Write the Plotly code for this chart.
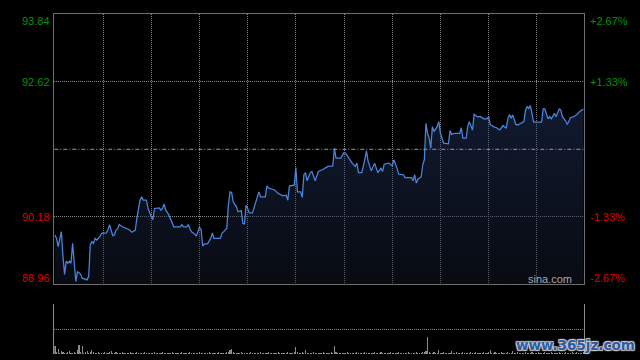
import plotly.graph_objects as go

# ---- data ----
minutes = [0, 1, 2, 4, 5, 6, 7, 8, 9, 10, 11, 12, 13, 14, 16, 17, 20, 21, 22, 23, 24, 25, 26, 28, 29,
           32, 33, 34, 36, 37, 38, 39, 40, 42, 44, 46, 48, 50, 51, 52, 53, 54, 55, 57, 58, 60, 61, 62,
           65, 66, 67, 68, 69, 71, 72, 74, 76, 78, 79, 80, 82, 83, 84, 85, 87, 88, 90, 91, 92, 93, 95,
           97, 98, 99, 103, 104, 106, 107, 108, 109, 110, 111, 113, 114, 116, 117, 118, 119, 120, 121,
           123, 125, 127, 128, 131, 132, 133, 137, 139, 142, 144, 145, 146, 148, 149, 150, 151, 153,
           154, 155, 156, 157, 159, 160, 162, 164, 165, 167, 170, 173, 174, 175, 178, 180, 181, 183,
           185, 187, 188, 189, 191, 192, 194, 195, 197, 199, 200, 201, 203, 204, 205, 208, 210, 211,
           213, 214, 217, 218, 222, 223, 224, 225, 226, 228, 229, 230, 231, 232, 233, 234, 235, 236,
           238, 239, 240, 241, 242, 245, 246, 247, 249, 252, 253, 254, 256, 257, 258, 260, 261, 263,
           265, 267, 269, 270, 271, 273, 275, 277, 279, 281, 282, 283, 284, 285, 287, 288, 290, 292,
           293, 294, 295, 296, 297, 298, 301, 303, 304, 305, 307, 308, 309, 311, 312, 314, 315, 316,
           318, 319, 321, 323, 325, 327, 329]
prices = [89.85, 89.79, 89.64, 89.91, 89.46, 89.14, 89.38, 89.34, 89.38, 89.34, 89.70, 89.34, 89.01,
          89.19, 89.14, 89.07, 89.04, 89.10, 89.67, 89.73, 89.70, 89.79, 89.76, 89.82, 89.88,
          89.89, 89.94, 90.04, 89.84, 89.85, 89.94, 89.96, 90.04, 90.00, 89.98, 89.95, 89.90, 89.94,
          90.15, 90.34, 90.48, 90.54, 90.48, 90.48, 90.33, 90.18, 90.13, 90.33,
          90.34, 90.30, 90.33, 90.41, 90.30, 90.21, 90.15, 90.00, 90.00, 90.00, 90.04, 90.00, 90.00,
          90.04, 89.97, 89.91, 89.87, 89.83, 89.99, 89.95, 89.65, 89.69, 89.69,
          89.79, 89.89, 89.79, 89.79, 89.88, 89.94, 89.97, 90.39, 90.63, 90.62, 90.45, 90.36, 90.27,
          90.29, 90.06, 90.05, 90.39, 90.33, 90.25,
          90.25, 90.42, 90.63, 90.54, 90.54, 90.74, 90.70, 90.66, 90.60, 90.56, 90.57, 90.48, 90.74,
          90.75, 90.75, 91.07, 90.63, 90.63,
          90.53, 90.94, 90.98, 90.83, 90.98, 91.00, 90.83, 91.00, 91.01, 91.04, 91.09, 91.10, 91.42,
          91.24, 91.24, 91.34, 91.33, 91.24,
          91.15, 91.09, 91.15, 90.98, 90.98, 91.09, 91.37, 91.18, 91.01, 91.15, 91.06, 90.98, 91.06,
          91.00, 91.13, 91.15, 91.10, 91.21,
          91.06, 90.95, 90.94, 90.89, 90.89, 90.83, 90.94, 90.79, 90.86, 90.90, 91.12, 91.21, 91.87,
          91.69, 91.60, 91.42, 91.81, 91.72,
          91.81, 91.90, 91.69, 91.60, 91.51, 91.50, 91.74, 91.67, 91.69, 91.69, 91.79, 91.60, 91.60,
          91.81, 91.90, 91.75, 92.03, 91.99,
          91.99, 91.95, 91.95, 91.99, 91.85, 91.81, 91.79, 91.75, 91.83, 91.78, 91.95, 92.03, 91.96,
          92.02, 91.85, 91.84, 91.87, 91.90,
          92.11, 92.17, 92.14, 92.19, 92.05, 91.89, 91.89, 91.89, 92.13, 92.13, 91.95, 91.99, 91.95,
          92.05, 91.99, 92.13, 92.11, 91.99,
          91.91, 91.85, 91.97, 91.99, 92.03, 92.09, 92.13]

volume = [
    8, 2, 5, 1, 3, 2, 1, 1, 2, 3, 1, 1, 2, 1, 4, 9, 2, 8, 1, 2, 3, 1, 2, 4, 2, 1, 1, 2, 1, 1,
    1, 2, 1, 1, 2, 3, 1, 1, 2, 1, 1, 1, 2, 1, 1, 1, 1, 2, 1, 1, 1, 2, 1, 1, 1, 1, 2, 1, 1, 1,
    1, 1, 2, 1, 1, 1, 1, 2, 1, 1, 1, 1, 1, 2, 1, 1, 1, 1, 1, 2, 1, 1, 1, 1, 2, 1, 1, 1, 1, 1,
    2, 1, 1, 1, 1, 1, 2, 1, 1, 1, 1, 1, 2, 1, 1, 1, 1, 2, 2, 4, 5, 2, 1, 1, 1, 1, 2, 1, 1, 1,
    1, 1, 2, 1, 1, 1, 1, 1, 2, 1, 1, 1, 1, 2, 1, 1, 1, 1, 1, 2, 1, 1, 1, 1, 1, 2, 1, 1, 1, 2,
    7, 2, 1, 1, 2, 1, 4, 1, 1, 1, 1, 2, 1, 1, 1, 1, 1, 2, 1, 1, 1, 1, 2, 1, 8, 2, 1, 1, 1, 1,
    1, 1, 2, 1, 1, 1, 1, 1, 2, 1, 1, 1, 1, 2, 1, 1, 1, 1, 1, 2, 1, 1, 1, 2, 1, 1, 1, 1, 1, 2,
    1, 1, 1, 1, 2, 1, 1, 1, 1, 1, 2, 1, 1, 1, 1, 2, 1, 1, 1, 2, 2, 3, 17, 2, 1, 1, 2, 1, 1, 4,
    1, 1, 2, 1, 1, 1, 1, 3, 1, 1, 2, 1, 1, 1, 2, 1, 1, 1, 1, 2, 1, 1, 2, 1, 1, 1, 1, 2, 1, 1,
    2, 4, 1, 1, 2, 1, 1, 1, 2, 1, 1, 1, 2, 1, 1, 3, 1, 1, 2, 1, 1, 1, 1, 2, 1, 1, 1, 2, 1, 1,
    1, 2, 1, 1, 1, 2, 1, 1, 1, 2, 1, 1, 1, 1, 2, 1, 1, 1, 2, 1, 1, 1, 2, 1, 1, 2, 1, 1, 1, 2,
]
volume_minutes = list(range(len(volume)))

prev_close = 91.40
price_ticks = [93.84, 92.62, 90.18, 88.96]
left_labels = ["93.84", "92.62", "90.18", "88.96"]
right_labels = ["+2.67%", "+1.33%", "-1.33%", "-2.67%"]
time_grid = [30, 60, 90, 120, 150, 180, 210, 240, 270, 300]
volume_grid = [25, 50]

# ---- styling ----
GRID = "#8a8a8a"
FRAME = "#6e6e6e"
GREEN = "#009400"
RED = "#dd0000"
FONT = "Liberation Sans, Arial, sans-serif"

X0, X1 = 54.3 / 640, 584.3 / 640
Y_MAIN = [1 - 284.3 / 360, 1 - 14.3 / 360]
Y_VOL = [1 - 354.3 / 360, 1 - 304.2 / 360]
XRANGE = [-0.4, 329.6]

fig = go.Figure()
fig.add_trace(go.Scatter(
    x=minutes, y=prices, mode="lines",
    line=dict(color="#4a86e0", width=1.25),
    fill="tozeroy",
    fillgradient=dict(type="vertical", start=price_ticks[-1], stop=max(prices),
                      colorscale=[[0, "rgba(18,24,40,0.45)"], [1, "rgba(40,60,110,0.42)"]]),
    hoverinfo="skip", xaxis="x", yaxis="y",
))
fig.add_trace(go.Bar(
    x=volume_minutes, y=volume, width=0.7,
    marker=dict(color="#8c8c8c", line=dict(width=0)),
    hoverinfo="skip", xaxis="x2", yaxis="y2",
))

fig.update_layout(
    width=640, height=360,
    margin=dict(l=0, r=0, t=0, b=0),
    paper_bgcolor="#000000", plot_bgcolor="#000000",
    showlegend=False, bargap=0,
    xaxis=dict(domain=[X0, X1], range=XRANGE, anchor="y",
               tickvals=time_grid, showticklabels=False, ticks="",
               showgrid=True, gridcolor=GRID, griddash="1px,1px", gridwidth=1,
               showline=True, mirror=True, linecolor=FRAME, linewidth=1, zeroline=False),
    yaxis=dict(domain=Y_MAIN, range=[price_ticks[-1], price_ticks[0]], anchor="x",
               tickvals=price_ticks[1:3], showticklabels=False, ticks="",
               showgrid=True, gridcolor=GRID, griddash="1px,1px", gridwidth=1,
               showline=True, mirror=True, linecolor=FRAME, linewidth=1, zeroline=False),
    xaxis2=dict(domain=[X0, X1], range=XRANGE, anchor="y2",
                showticklabels=False, ticks="", showgrid=False, showline=False, zeroline=False),
    yaxis2=dict(domain=Y_VOL, range=[0, 50.5], anchor="x2",
                tickvals=volume_grid, showticklabels=False, ticks="",
                showgrid=True, gridcolor=GRID, griddash="1px,1px", gridwidth=1,
                showline=True, mirror=True, linecolor="#8a8a8a", linewidth=1, zeroline=False),
)

# previous close reference line
fig.add_shape(type="line", xref="x", yref="y", x0=XRANGE[0], x1=XRANGE[1],
              y0=prev_close, y1=prev_close, layer="above",
              line=dict(color="#9a9a9a", width=1, dash="4px,2px,1px,2px"))

anns = []
yshifts = [1, 0, 0, -1.5]
yanchors = ["top", "middle", "middle", "bottom"]
for i, (v, lt, rt) in enumerate(zip(price_ticks, left_labels, right_labels)):
    col = GREEN if v > prev_close else RED
    anns.append(dict(xref="paper", yref="y", x=X0, y=v, xanchor="right", yanchor=yanchors[i],
                     xshift=-2, yshift=yshifts[i], text=lt, showarrow=False,
                     font=dict(family=FONT, size=11, color=col)))
    anns.append(dict(xref="paper", yref="y", x=X1, y=v, xanchor="left", yanchor=yanchors[i],
                     xshift=4, yshift=yshifts[i], text=rt, showarrow=False,
                     font=dict(family=FONT, size=11, color=col)))
anns.append(dict(xref="paper", yref="paper", x=573.5 / 640, y=1 - 279 / 360,
                 xanchor="right", yanchor="middle", text="sina.com", showarrow=False,
                 font=dict(family=FONT, size=11, color="#a8a8a8")))
anns.append(dict(xref="paper", yref="paper", x=575 / 640, y=1 - 345 / 360,
                 xanchor="center", yanchor="middle", text="<b>www.365jz.com</b>", showarrow=False,
                 font=dict(family="DejaVu Sans", size=13.5, color="#2a5aa8",
                           shadow="1px 1px 1px #d0d0d0, -1px -1px 1px #d0d0d0, 1px -1px 1px #d0d0d0, -1px 1px 1px #d0d0d0")))
fig.update_layout(annotations=anns)

fig.write_html("out.html",
               config={"displayModeBar": False, "staticPlot": True},
               post_script="document.body.style.margin='0';document.body.style.overflow='hidden';")
